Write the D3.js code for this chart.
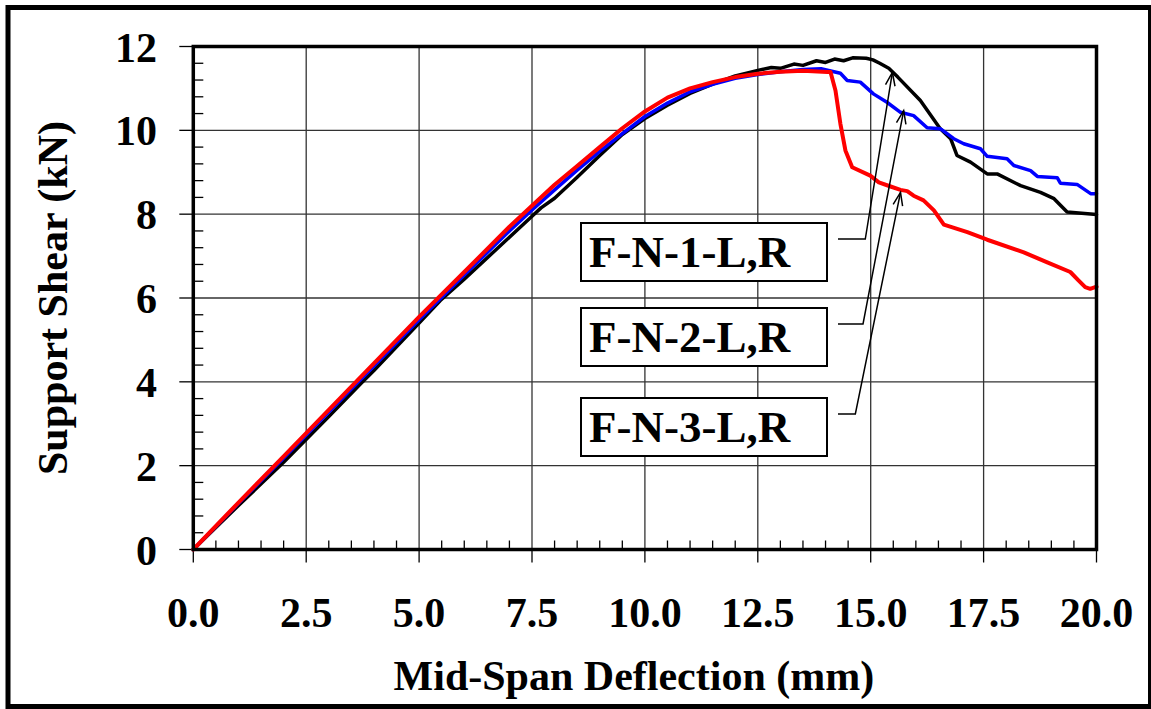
<!DOCTYPE html>
<html><head><meta charset="utf-8">
<script src="https://cdn.jsdelivr.net/npm/d3@7"></script>
<style>body{margin:0;background:#fff;}svg{display:block;}text{font-family:"Liberation Serif","Times New Roman",serif;font-weight:bold;fill:#000;}</style>
</head><body><svg id="c" width="1151" height="709"></svg>
<script>
// Mid-span deflection (mm) and support shear (kN) for each specimen
const fn1X = [0,1,2,3,3.7,4,5,5.47,6,7,7.5,7.7,8,8.5,9,9.5,10,10.5,11,11.5,12,12.5,12.8,13,13.3,13.5,13.8,14,14.2,14.4,14.6,14.9,15.05,15.2,15.4,15.6,16.1,16.54,16.77,16.91,17.21,17.58,17.8,18.32,18.76,19.06,19.24,19.35,20];
const fn1Y = [0,1.05,2.08,3.17,3.95,4.27,5.4,5.94,6.45,7.45,7.95,8.15,8.38,8.88,9.4,9.9,10.28,10.6,10.88,11.1,11.3,11.43,11.5,11.48,11.58,11.55,11.66,11.62,11.7,11.66,11.73,11.72,11.68,11.6,11.48,11.27,10.71,10.04,9.8,9.4,9.24,8.96,8.96,8.68,8.52,8.37,8.17,8.05,7.99];
const fn2X = [0,1,2,3,4,5,6,7,7.5,8,8.5,9,9.5,10,10.5,11,11.5,12,12.5,13,13.5,13.9,14.33,14.48,14.77,15.06,15.36,15.66,15.95,16.25,16.54,16.84,17.06,17.43,17.58,18.02,18.17,18.54,18.69,19.13,19.2,19.57,19.87,20];
const fn2Y = [0,1.1,2.18,3.28,4.38,5.48,6.55,7.6,8.1,8.58,9.05,9.5,9.92,10.33,10.65,10.92,11.1,11.24,11.33,11.4,11.45,11.47,11.36,11.19,11.15,10.87,10.67,10.43,10.35,10.06,10.04,9.8,9.68,9.56,9.38,9.32,9.16,9.04,8.9,8.87,8.74,8.71,8.49,8.49];
const fn3X = [0,1,2,3,4,5,6,7,7.5,8,8.5,9,9.5,10,10.5,11,11.5,12,12.5,13,13.5,14.04,14.11,14.22,14.33,14.44,14.59,14.99,15.18,15.44,15.66,15.81,15.95,16.17,16.4,16.62,17.14,17.58,18.39,18.91,19.42,19.6,19.75,19.86,20];
const fn3Y = [0,1.12,2.22,3.33,4.44,5.55,6.62,7.7,8.2,8.7,9.15,9.6,10.05,10.45,10.78,11.0,11.15,11.27,11.35,11.4,11.42,11.39,11.39,10.95,10.15,9.52,9.12,8.92,8.76,8.66,8.58,8.55,8.44,8.33,8.09,7.75,7.57,7.39,7.09,6.85,6.62,6.42,6.26,6.22,6.27];
const seriesNames = ["F-N-1-L,R","F-N-2-L,R","F-N-3-L,R"];
const seriesColors = ["#000000","#0000ff","#ff0000"];
const xTicks = [0,2.5,5,7.5,10,12.5,15,17.5,20];
const yTicks = [0,2,4,6,8,10,12];
const xTitle = "Mid-Span Deflection (mm)";
const yTitle = "Support Shear (kN)";
// annotation arrow targets (data units)
const arrowTip = [[15.48,11.38],[15.73,10.47],[15.66,8.52]];

const svg = d3.select("#c");
const L=193.3, R=1096.5, T=46.5, B=549.5;
const x = d3.scaleLinear().domain([0,20]).range([L,R]);
const y = d3.scaleLinear().domain([0,12]).range([B,T]);

// outer border
svg.append("rect").attr("x",8).attr("y",7.5).attr("width",1142.5).attr("height",699)
  .attr("fill","none").attr("stroke","#000").attr("stroke-width",5);

// grid
const g = svg.append("g");
g.selectAll(".gx").data(xTicks.slice(1,-1)).join("line")
  .attr("x1",d=>x(d)).attr("x2",d=>x(d)).attr("y1",T).attr("y2",B)
  .attr("stroke","#333").attr("stroke-width",1.3);
g.selectAll(".gy").data(yTicks.slice(1,-1)).join("line")
  .attr("y1",d=>y(d)).attr("y2",d=>y(d)).attr("x1",L).attr("x2",R)
  .attr("stroke","#333").attr("stroke-width",1.3);

// minor ticks (inside)
const xMinor = d3.range(0,20.001,0.5).filter(v=>Math.abs(v/2.5-Math.round(v/2.5))>1e-6);
const yMinor = d3.range(0,12.001,0.4).filter(v=>Math.abs(v/2-Math.round(v/2))>1e-6);
g.selectAll(".mx").data(xMinor).join("line")
  .attr("x1",d=>x(d)).attr("x2",d=>x(d)).attr("y1",B).attr("y2",B-9)
  .attr("stroke","#000").attr("stroke-width",1.3);
g.selectAll(".my").data(yMinor).join("line")
  .attr("y1",d=>y(d)).attr("y2",d=>y(d)).attr("x1",L).attr("x2",L+10)
  .attr("stroke","#000").attr("stroke-width",1.3);
// major ticks (outside)
g.selectAll(".tx").data(xTicks).join("line")
  .attr("x1",d=>x(d)).attr("x2",d=>x(d)).attr("y1",B).attr("y2",B+13)
  .attr("stroke","#000").attr("stroke-width",1.3);
g.selectAll(".ty").data(yTicks).join("line")
  .attr("y1",d=>y(d)).attr("y2",d=>y(d)).attr("x1",L-14).attr("x2",L)
  .attr("stroke","#000").attr("stroke-width",1.3);

// curves
const xs=[fn1X,fn2X,fn3X], ys=[fn1Y,fn2Y,fn3Y], widths=[3.5,3.5,4];
const line = d3.line().x(d=>x(d[0])).y(d=>y(d[1]));
xs.forEach((xv,i)=>{
  const pts = xv.map((v,j)=>[v,ys[i][j]]);
  svg.append("path").attr("d",line(pts)).attr("fill","none")
    .attr("stroke",seriesColors[i]).attr("stroke-width",widths[i])
    .attr("stroke-linejoin","round").attr("stroke-linecap","round");
});

// frame
svg.append("rect").attr("x",L).attr("y",T).attr("width",R-L).attr("height",B-T)
  .attr("fill","none").attr("stroke","#000").attr("stroke-width",3.5);

// tick labels
svg.selectAll(".xl").data(xTicks).join("text")
  .attr("x",d=>x(d)).attr("y",627).attr("text-anchor","middle")
  .attr("font-size",42).text(d=>d.toFixed(1));
svg.selectAll(".yl").data(yTicks).join("text")
  .attr("x",157).attr("y",d=>y(d)+15).attr("text-anchor","end")
  .attr("font-size",42).text(d=>d);

// axis titles
svg.append("text").attr("x",(L+R)/2-11).attr("y",690).attr("text-anchor","middle")
  .attr("font-size",42).text(xTitle);
svg.append("text").attr("transform",`translate(67,${(T+B)/2}) rotate(-90)`)
  .attr("text-anchor","middle").attr("font-size",42).text(yTitle);

// legend boxes with leader arrows
const boxTop=[223,308,398], elbowX=[14.88,14.83,14.66];
const boxL=581, boxW=246, boxH=58;
seriesNames.forEach((nm,i)=>{
  svg.append("rect").attr("x",boxL).attr("y",boxTop[i]).attr("width",boxW).attr("height",boxH)
    .attr("fill","#fff").attr("stroke","#000").attr("stroke-width",2);
  svg.append("text").attr("x",boxL+8).attr("y",boxTop[i]+44).attr("font-size",45).text(nm);
  const ly = boxTop[i]+16;
  const ex = x(elbowX[i]);
  const tx = x(arrowTip[i][0]), ty = y(arrowTip[i][1]);
  svg.append("path").attr("d",`M838,${ly}L${ex},${ly}L${tx},${ty}`)
    .attr("fill","none").attr("stroke","#000").attr("stroke-width",1.5);
  const ang = Math.atan2(ly-ty, ex-tx);
  const a1=ang+0.35, a2=ang-0.35, len=14;
  svg.append("path").attr("d",`M${tx+len*Math.cos(a1)},${ty+len*Math.sin(a1)}L${tx},${ty}L${tx+len*Math.cos(a2)},${ty+len*Math.sin(a2)}`)
    .attr("fill","none").attr("stroke","#000").attr("stroke-width",1.5);
});
</script></body></html>
